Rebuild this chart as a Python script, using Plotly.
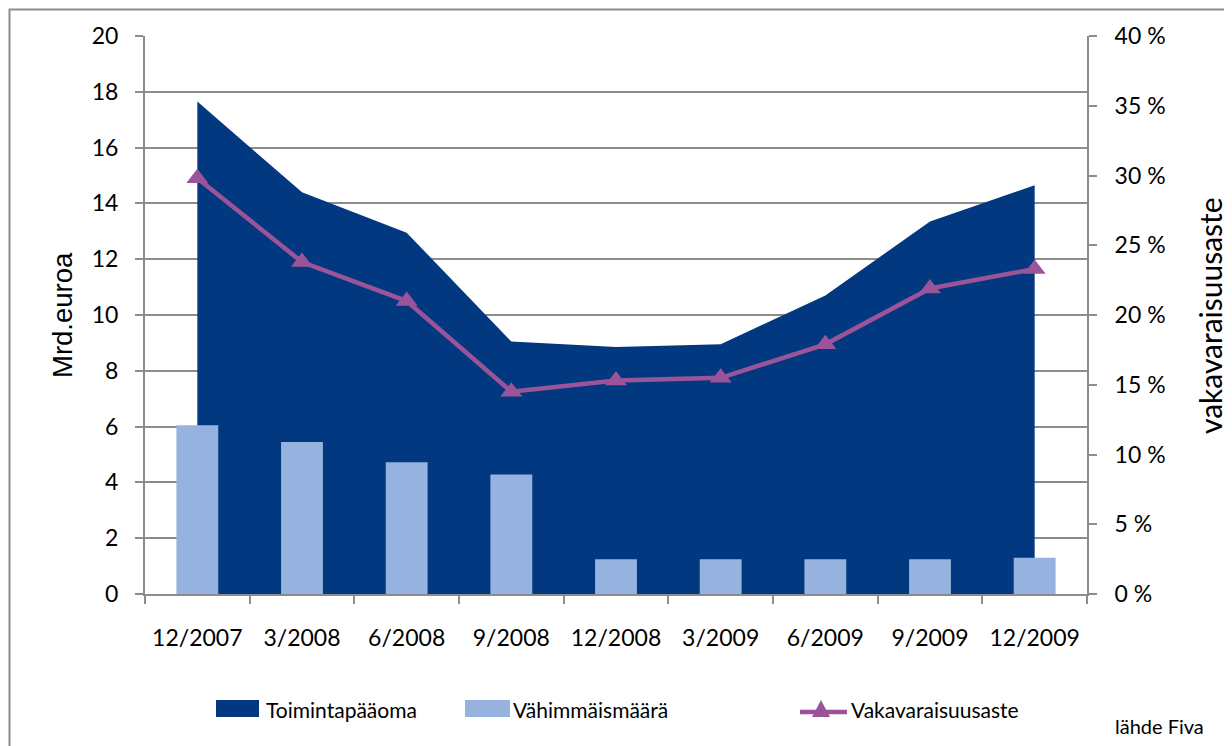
import plotly.graph_objects as go

categories = ["12/2007", "3/2008", "6/2008", "9/2008", "12/2008", "3/2009", "6/2009", "9/2009", "12/2009"]
toimintapaaoma = [17.65, 14.4, 12.95, 9.05, 8.85, 8.95, 10.7, 13.35, 14.65]
vahimmaismaara = [6.05, 5.45, 4.72, 4.28, 1.25, 1.25, 1.25, 1.25, 1.3]
vakavaraisuusaste = [29.8, 23.8, 21.0, 14.5, 15.3, 15.5, 17.9, 21.9, 23.3]
legend_names = ["Toimintapääoma", "Vähimmäismäärä", "Vakavaraisuusaste"]

FONT = "Lato"
GRAY = "#8c8c8c"
DARK = "#01387F"
LIGHT = "#95B3DE"
PURPLE = "#9B5499"

fig = go.Figure()
fig.add_trace(go.Scatter(
    x=categories, y=toimintapaaoma, name=legend_names[0],
    mode="lines", line=dict(width=0, color=DARK), fill="tozeroy",
    fillcolor=DARK, xaxis="x", yaxis="y", showlegend=False,
))
fig.add_trace(go.Bar(
    x=categories, y=vahimmaismaara, name=legend_names[1],
    marker=dict(color=LIGHT, line=dict(width=0)), width=0.4,
    xaxis="x", yaxis="y2", showlegend=False,
))
fig.add_trace(go.Scatter(
    x=categories, y=vakavaraisuusaste, name=legend_names[2],
    mode="lines+markers", line=dict(width=4.5, color=PURPLE),
    marker=dict(symbol="triangle-up", size=19, color=PURPLE),
    xaxis="x", yaxis="y3", showlegend=False,
))

# page body has an 8px default margin: work in viewport pixels
OFF = 8
W, H = 1232, 746
L, R, T, B = 145, 1087, 36, 594          # plot area in viewport pixels
pw, ph = R - L, B - T


def px(xv):
    return (xv - L) / pw


def py(yv):
    return (B - yv) / ph


tick_font = dict(family=FONT, size=23, color="#000000")

shapes = [
    dict(type="rect", xref="paper", yref="paper",
         x0=px(9.5), x1=px(1260), y0=py(9.5), y1=py(780),
         line=dict(color=GRAY, width=2), fillcolor="rgba(0,0,0,0)", layer="below"),
    # legend swatches
    dict(type="rect", xref="paper", yref="paper",
         x0=px(216), x1=px(259), y0=py(717), y1=py(700),
         line=dict(width=0), fillcolor=DARK),
    dict(type="rect", xref="paper", yref="paper",
         x0=px(465), x1=px(510), y0=py(717), y1=py(700),
         line=dict(width=0), fillcolor=LIGHT),
    dict(type="line", xref="paper", yref="paper",
         x0=px(800), x1=px(847), y0=py(712), y1=py(712),
         line=dict(color=PURPLE, width=4.5)),
    dict(type="path", xref="paper", yref="paper",
         path=f"M {px(812)},{py(717)} L {px(830)},{py(717)} L {px(821)},{py(700)} Z",
         line=dict(width=0), fillcolor=PURPLE),
]

annotations = [
    dict(text="Mrd.euroa", xref="paper", yref="paper", x=px(62), y=py(315),
         textangle=-90, showarrow=False, xanchor="center", yanchor="middle",
         font=dict(family="Liberation Sans", size=27.5, color="#000000")),
    dict(text="vakavaraisuusaste", xref="paper", yref="paper", x=px(1210), y=py(316),
         textangle=-90, showarrow=False, xanchor="center", yanchor="middle",
         font=dict(family=FONT, size=30, color="#000000")),
    dict(text="lähde Fiva", xref="paper", yref="paper", x=px(1113), y=py(726),
         showarrow=False, xanchor="left", yanchor="middle",
         font=dict(family=FONT, size=20, color="#000000")),
    dict(text=legend_names[0], xref="paper", yref="paper", x=px(264), y=py(709),
         showarrow=False, xanchor="left", yanchor="middle",
         font=dict(family=FONT, size=21, color="#000000")),
    dict(text=legend_names[1], xref="paper", yref="paper", x=px(511), y=py(709),
         showarrow=False, xanchor="left", yanchor="middle",
         font=dict(family=FONT, size=21, color="#000000")),
    dict(text=legend_names[2], xref="paper", yref="paper", x=px(849), y=py(709),
         showarrow=False, xanchor="left", yanchor="middle",
         font=dict(family=FONT, size=21, color="#000000")),
]

fig.update_layout(
    width=W, height=H,
    margin=dict(l=L - OFF, r=W - (R - OFF), t=T - OFF, b=H - (B - OFF), autoexpand=False),
    paper_bgcolor="white", plot_bgcolor="white",
    font=dict(family=FONT, size=21, color="#000000"),
    showlegend=False,
    barmode="overlay",
    xaxis=dict(
        type="category", range=[-0.5, 8.5], tickson="boundaries",
        ticks="outside", ticklen=8, tickcolor=GRAY, tickwidth=2,
        showline=True, linecolor=GRAY, linewidth=2, showgrid=False,
        ticklabelstandoff=22, tickfont=tick_font, zeroline=False,
    ),
    yaxis=dict(
        range=[0, 20], dtick=2, showgrid=True, gridcolor=GRAY, gridwidth=2,
        ticks="outside", ticklen=8, tickcolor=GRAY, tickwidth=2,
        showline=True, linecolor=GRAY, linewidth=2, zeroline=False,
        ticklabelstandoff=12, tickfont=tick_font,
    ),
    yaxis2=dict(range=[0, 20], overlaying="y", visible=False),
    yaxis3=dict(
        range=[0, 40], dtick=5, overlaying="y", side="right",
        ticksuffix=" %", showgrid=False, zeroline=False,
        ticks="outside", ticklen=8, tickcolor=GRAY, tickwidth=2,
        showline=True, linecolor=GRAY, linewidth=2,
        ticklabelstandoff=13, tickfont=tick_font,
    ),
    annotations=annotations,
    shapes=shapes,
)

fig.write_html("out.html")
